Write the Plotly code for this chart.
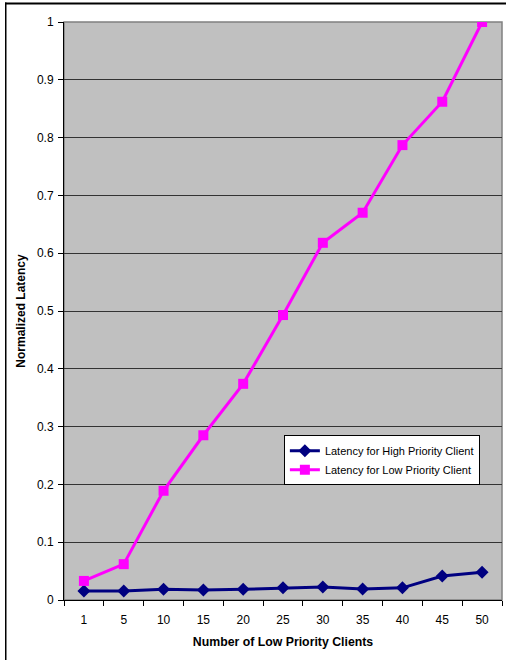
import plotly.graph_objects as go

clients = ["1", "5", "10", "15", "20", "25", "30", "35", "40", "45", "50"]
high_priority = [0.0156, 0.0156, 0.0185, 0.0173, 0.0185, 0.021, 0.0225, 0.019, 0.021, 0.0415, 0.048]
low_priority = [0.033, 0.062, 0.189, 0.285, 0.374, 0.493, 0.618, 0.670, 0.787, 0.862, 1.0]

FONT = "Liberation Sans, Arial, sans-serif"

fig = go.Figure()
fig.add_trace(go.Scatter(
    x=clients, y=high_priority, mode="lines+markers",
    name="Latency for High Priority Client",
    line=dict(color="#000080", width=3),
    marker=dict(symbol="diamond", size=10, color="#000080"),
))
fig.add_trace(go.Scatter(
    x=clients, y=low_priority, mode="lines+markers",
    name="Latency for Low Priority Client",
    line=dict(color="#FF00FF", width=3),
    marker=dict(symbol="square", size=10, color="#FF00FF"),
))

H = 578.0
W = 438.0

fig.update_layout(
    width=506, height=660,
    margin=dict(l=64, r=4, t=22, b=60),
    paper_bgcolor="white",
    plot_bgcolor="#C0C0C0",
    font=dict(family=FONT, size=12, color="black"),
    showlegend=True,
    legend=dict(
        x=0.502, y=0.285, xanchor="left", yanchor="top",
        bgcolor="white", bordercolor="black", borderwidth=1,
        font=dict(family=FONT, size=11, color="black"),
        tracegroupgap=0, itemwidth=30,
    ),
    xaxis=dict(
        type="category",
        title=dict(text="<b>Number of Low Priority Clients</b>", font=dict(size=12.3), standoff=10),
        showline=True, linecolor="black", linewidth=1,
        ticks="outside", tickson="boundaries", ticklen=5, tickcolor="black",
        ticklabelstandoff=9,
        showgrid=False, zeroline=False,
        range=[-0.5, 10.5],
    ),
    yaxis=dict(
        title=dict(text="<b>Normalized Latency</b>", font=dict(size=12), standoff=8),
        range=[0, 1], dtick=0.1, tickformat="~g",
        showline=True, linecolor="black", linewidth=1,
        ticks="outside", ticklen=5, tickcolor="black",
        ticklabelstandoff=2,
        showgrid=True, gridcolor="#333333", gridwidth=1,
        zeroline=False,
    ),
    shapes=[
        # outer chart-area border: top edge as a thin filled band
        dict(type="rect", xref="paper", yref="paper",
             x0=(5 - 64) / W, x1=(506 - 64) / W,
             y0=(600 - 4.5) / H, y1=(600 - 2.5) / H,
             line=dict(width=0), fillcolor="black", layer="above"),
        # outer chart-area border: left edge
        dict(type="rect", xref="paper", yref="paper",
             x0=(5 - 64) / W, x1=(6.5 - 64) / W,
             y0=(600 - 700) / H, y1=(600 - 2.5) / H,
             line=dict(width=0), fillcolor="black", layer="above"),
        # plot-area border
        dict(type="rect", xref="paper", yref="paper", x0=0, x1=1, y0=0, y1=1,
             line=dict(color="#808080", width=1.5), fillcolor="rgba(0,0,0,0)", layer="below"),
    ],
)

fig.write_html("out.html", config={"displayModeBar": False},
               post_script="document.body.style.margin='0';")
